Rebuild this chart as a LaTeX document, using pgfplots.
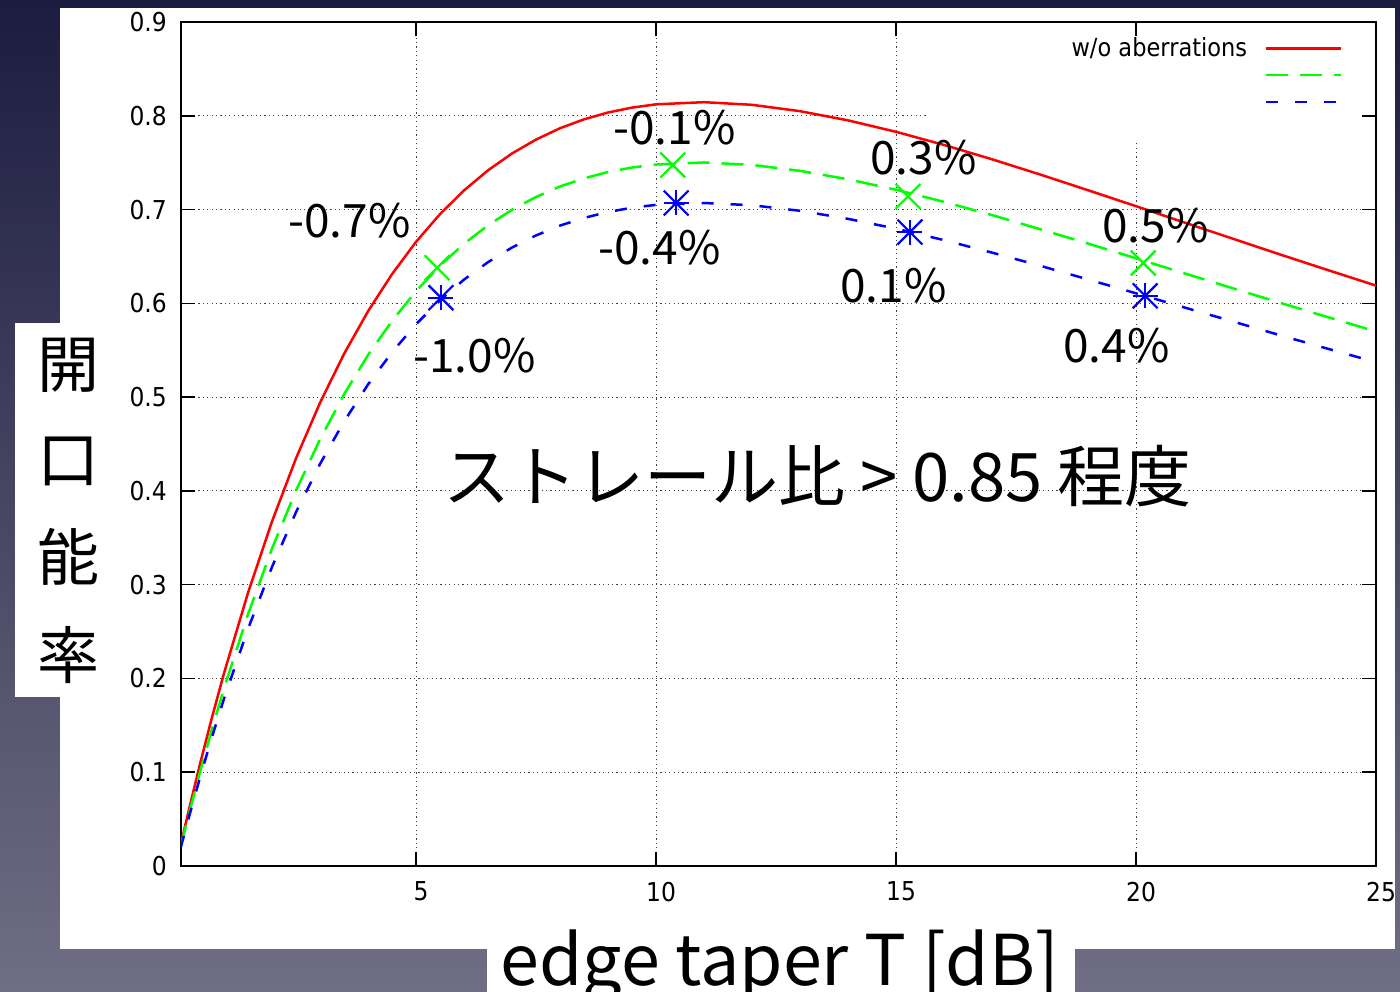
\documentclass[border=0pt]{standalone}
\usepackage{fontspec}
\usepackage{pgfplots}
\pgfplotsset{compat=1.18}
\newfontfamily\tickfont[FakeStretch=0.9]{DejaVu Sans}
\newfontfamily\jp{Noto Sans CJK JP}
\definecolor{bgtop}{RGB}{28,28,64}
\definecolor{bgbot}{RGB}{112,110,132}

\pgfplotstableread{
T eta
0.1 0.0228
0.25 0.0559
0.5 0.1087
0.75 0.1585
1 0.2055
1.5 0.2913
2 0.3674
2.5 0.4347
3 0.4939
3.5 0.5460
4 0.5915
4.5 0.6311
5 0.6655
5.5 0.6951
6 0.7204
6.5 0.7418
7 0.7598
7.5 0.7746
8 0.7867
8.5 0.7962
9 0.8035
9.5 0.8087
10 0.8122
11 0.8145
12 0.8117
13 0.8049
14 0.7951
15 0.7829
16 0.7689
17 0.7536
18 0.7374
19 0.7206
20 0.7036
21 0.6863
22 0.6692
23 0.6521
24 0.6354
25 0.6189
}\redtab
\pgfplotstableread{
T eta
0.1 0.0210
0.25 0.0515
0.5 0.1001
0.75 0.1460
1 0.1893
1.5 0.2683
2 0.3384
2.5 0.4004
3 0.4549
3.5 0.5029
4 0.5448
4.5 0.5812
5 0.6129
5.5 0.6402
6 0.6635
6.5 0.6832
7 0.6998
7.5 0.7134
8 0.7246
8.5 0.7333
9 0.7400
9.5 0.7448
10 0.7480
11 0.7502
12 0.7476
13 0.7413
14 0.7323
15 0.7211
16 0.7082
17 0.6941
18 0.6791
19 0.6637
20 0.6480
21 0.6321
22 0.6163
23 0.6006
24 0.5852
25 0.5700
}\greentab
\pgfplotstableread{
T eta
0.1 0.0198
0.25 0.0485
0.5 0.0944
0.75 0.1376
1 0.1784
1.5 0.2528
2 0.3189
2.5 0.3773
3 0.4287
3.5 0.4739
4 0.5134
4.5 0.5478
5 0.5777
5.5 0.6033
6 0.6253
6.5 0.6439
7 0.6595
7.5 0.6724
8 0.6829
8.5 0.6911
9 0.6974
9.5 0.7020
10 0.7050
11 0.7070
12 0.7046
13 0.6987
14 0.6901
15 0.6796
16 0.6674
17 0.6541
18 0.6401
19 0.6255
20 0.6107
21 0.5957
22 0.5809
23 0.5660
24 0.5515
25 0.5372
}\bluetab

\pgfplotsset{myframe/.style={
  at={(90.4bp,63bp)}, anchor=south west,
  scale only axis, width=597.6bp, height=422bp,
  xmin=0.1, xmax=25, ymin=0, ymax=0.9,
  xtick={5,10,15,20,25},
  ytick={0,0.1,0.2,0.3,0.4,0.5,0.6,0.7,0.8,0.9},
}}
\newcommand\rowrule{\rule[-4bp]{0pt}{13.5bp}}

\begin{document}
\begin{tikzpicture}
\useasboundingbox (0,0) rectangle (700bp,496bp);
\clip (0,0) rectangle (700bp,496bp);
\shade[top color=bgtop, bottom color=bgbot] (0,0) rectangle (700bp,496bp);
\fill[white] (30bp,21.5bp) rectangle (697.5bp,492bp);
\fill[white] (7.5bp,147.5bp) rectangle (31bp,334.5bp);
\fill[white] (243.5bp,0bp) rectangle (537.5bp,22bp);
% grid only
\begin{axis}[myframe,
  xticklabels={}, yticklabels={},
  axis line style={draw=none}, tick style={draw=none},
  grid=major,
  grid style={black!75, line width=0.5bp, dash pattern=on 0.6bp off 1.6bp},
]
\addplot[draw=none, forget plot] coordinates {(1,0.1) (2,0.2)};
\end{axis}
% key area hides the grid
\fill[white] (464bp,424.5bp) rectangle (688bp,485bp);
\begin{axis}[myframe,
  yticklabel style={/pgf/number format/fixed, /pgf/number format/precision=1, xshift=-3.5bp},
  xticklabel style={xshift=2.5bp, yshift=-4.5bp},
  /pgf/number format/assume math mode=true,
  ticklabel style={font=\tickfont\fontsize{13bp}{15bp}\selectfont},
  tick align=inside, major tick length=7bp,
  tick style={black, line width=0.8bp},
  axis line style={black, line width=1bp},
  legend plot pos=right,
  legend cell align=right,
  legend image code/.code={\draw[#1] (0bp,0bp) -- (37.5bp,0bp);},
  legend style={at={(1,1)}, anchor=north east, xshift=-16.5bp, yshift=-7.5bp,
    draw=none, fill=none, inner sep=0pt, column sep=9bp, row sep=2.4bp,
    nodes={inner sep=0pt}, font=\tickfont\fontsize{12.5bp}{13.5bp}\selectfont},
]
\addplot[red, line width=1.25bp] table[x=T, y=eta] {\redtab};
\addlegendentry{w/o aberrations\rowrule}
\addplot[green, line width=1.25bp, dash pattern=on 11bp off 6bp] table[x=T, y=eta] {\greentab};
\addlegendentry{\rowrule}
\addplot[blue, line width=1.25bp, dash pattern=on 6bp off 8.5bp] table[x=T, y=eta] {\bluetab};
\addlegendentry{\rowrule}
\addplot[forget plot, only marks, mark=x, mark size=8.8bp, green, line width=1.1bp]
  coordinates {(5.44,0.638) (10.35,0.7475) (15.25,0.714) (20.15,0.643)};
\addplot[forget plot, only marks, mark=+, mark size=6.25bp, blue, line width=1.1bp]
  coordinates {(5.52,0.606) (10.42,0.707) (15.29,0.676) (20.19,0.608)};
\addplot[forget plot, only marks, mark=x, mark size=8.8bp, blue, line width=1.1bp]
  coordinates {(5.52,0.606) (10.42,0.707) (15.29,0.676) (20.19,0.608)};
\end{axis}
\tikzset{ann/.style={anchor=base west, inner sep=0pt, font=\jp\fontsize{23bp}{27bp}\selectfont}}
\node[ann] at (144bp,377bp) {-0.7\%};
\node[ann] at (206.5bp,309.5bp) {-1.0\%};
\node[ann] at (306.5bp,423.5bp) {-0.1\%};
\node[ann] at (299bp,363.5bp) {-0.4\%};
\node[ann] at (435bp,408.5bp) {0.3\%};
\node[ann] at (420bp,344.5bp) {0.1\%};
\node[ann] at (551bp,374.5bp) {0.5\%};
\node[ann] at (531.5bp,314.5bp) {0.4\%};
\node[anchor=base west, inner sep=0pt, font=\jp\fontsize{33.5bp}{40bp}\selectfont] at (221.5bp,245bp) {ストレール比 > 0.85 程度};
\node[anchor=base west, inner sep=0pt, font=\jp\fontsize{35bp}{40bp}\selectfont] at (250bp,3.5bp) {edge taper T [dB]};
\tikzset{yl/.style={anchor=center, inner sep=0pt, font=\jp\fontsize{31bp}{36bp}\selectfont}}
\node[yl] at (34bp,313.5bp) {開};
\node[yl] at (34bp,265.5bp) {口};
\node[yl] at (34bp,217.5bp) {能};
\node[yl] at (34bp,168.5bp) {率};
\end{tikzpicture}
\end{document}
